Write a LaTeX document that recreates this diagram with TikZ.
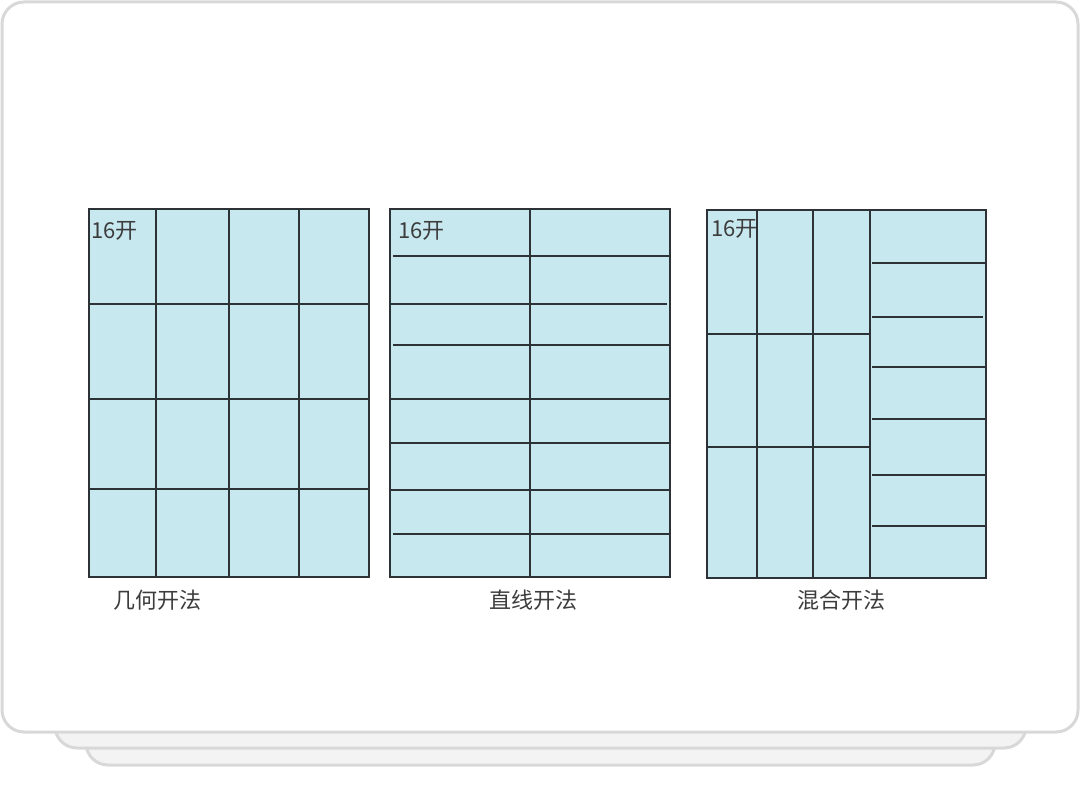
\documentclass[tikz,border=0pt]{standalone}
\usepackage{fontspec}
\setmainfont{Noto Sans CJK SC}
\definecolor{sheetblue}{RGB}{200,232,240}
\definecolor{cutline}{RGB}{45,50,55}
\definecolor{cardedge}{RGB}{216,216,216}
\definecolor{cardshade}{RGB}{243,243,243}
\definecolor{labelgray}{RGB}{60,60,60}

\begin{document}
\begin{tikzpicture}[
    x=0.5pt, y=-0.5pt,
    card/.style={draw=cardedge, line width=1.5pt, rounded corners=11pt},
    sheet/.style={fill=sheetblue, draw=cutline, line width=0.6pt},
    cut/.style={draw=cutline, line width=0.6pt},
    sizetag/.style={anchor=west, inner sep=0pt, font=\fontsize{11pt}{13pt}\selectfont, text=labelgray},
    caption/.style={inner sep=0pt, font=\fontsize{11pt}{13pt}\selectfont, text=labelgray}
]
\useasboundingbox (0,0) rectangle (1080,796);

% Stacked card background
\path[card, fill=cardshade] (86,700) rectangle (995,765);
\path[card, fill=cardshade] (55,700) rectangle (1026,748);
\path[card, fill=white] (2,2) rectangle (1078,732);

% Geometric cutting
\path[sheet] (89,209) rectangle (369,577);
\foreach \xc in {156,229,299}
    \draw[cut] (\xc,209) -- (\xc,577);
\foreach \yc in {304,399,489}
    \draw[cut] (89,\yc) -- (369,\yc);
\node[sizetag] (tag_geo) at (91,231) {16开};
\node[caption] (cap_geo) at (157,600) {几何开法};

% Straight-line cutting
\path[sheet] (390,209) rectangle (670,577);
\draw[cut] (530,209) -- (530,577);
\draw[cut] (393,256) -- (670,256);
\draw[cut] (390,304) -- (667,304);
\draw[cut] (393,345) -- (670,345);
\draw[cut] (390,399) -- (670,399);
\draw[cut] (390,443) -- (671,443);
\draw[cut] (390,490) -- (670,490);
\draw[cut] (393,534) -- (670,534);
\node[sizetag] (tag_line) at (398,231) {16开};
\node[caption] (cap_line) at (533,600) {直线开法};

% Mixed cutting
\path[sheet] (707,210) rectangle (986,578);
\foreach \xc in {757,813,870}
    \draw[cut] (\xc,210) -- (\xc,578);
\foreach \yc in {334,447}
    \draw[cut] (707,\yc) -- (870,\yc);
\foreach \yc in {263,367,419,475,526}
    \draw[cut] (872,\yc) -- (986,\yc);
\draw[cut, line width=0.9pt] (872,317) -- (983,317);
\node[sizetag] (tag_mix) at (711,229) {16开};
\node[caption] (cap_mix) at (841,600) {混合开法};

\end{tikzpicture}
\end{document}
